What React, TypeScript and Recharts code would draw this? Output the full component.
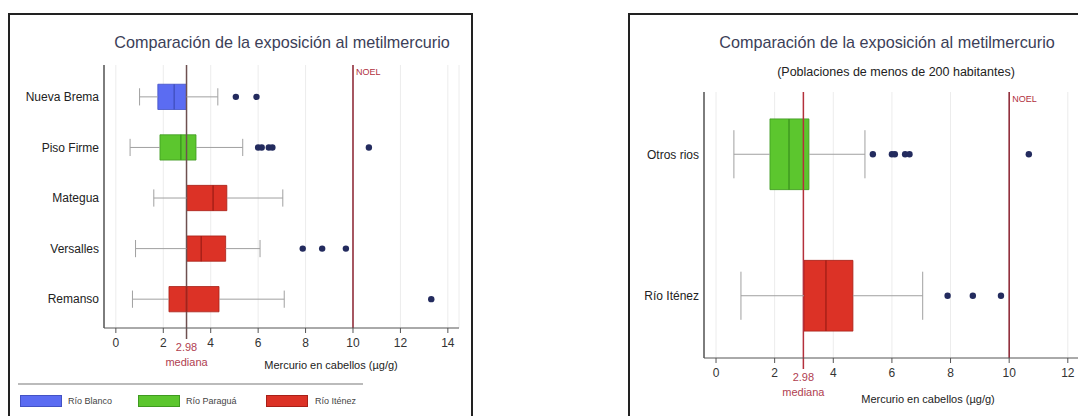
import React from 'react';
import { ComposedChart, XAxis, YAxis, CartesianGrid, ReferenceArea, ReferenceLine, Scatter } from 'recharts';

// left panel: communities
const leftCategories = ['Nueva Brema', 'Piso Firme', 'Mategua', 'Versalles', 'Remanso'];
const leftRiver = ['Río Blanco', 'Río Paraguá', 'Río Iténez', 'Río Iténez', 'Río Iténez'];
const leftLow = [1.0, 0.6, 1.6, 0.83, 0.7];
const leftQ1 = [1.77, 1.86, 2.98, 2.98, 2.24];
const leftMedian = [2.46, 2.74, 4.1, 3.6, 2.98];
const leftQ3 = [2.98, 3.38, 4.68, 4.63, 4.35];
const leftHigh = [4.3, 5.35, 7.04, 6.08, 7.1];
const leftOutliers = [[5.06, 5.93], [6.0, 6.15, 6.45, 6.6, 10.67], [], [7.88, 8.7, 9.7], [13.3]];

// right panel: grouped by river
const rightCategories = ['Otros rios', 'Río Iténez'];
const rightRiver = ['Río Paraguá', 'Río Iténez'];
const rightLow = [0.61, 0.85];
const rightQ1 = [1.84, 3.0];
const rightMedian = [2.49, 3.75];
const rightQ3 = [3.17, 4.67];
const rightHigh = [5.08, 7.05];
const rightOutliers = [[5.35, 6.0, 6.1, 6.45, 6.6, 10.67], [7.9, 8.76, 9.72]];

const leftTicks = [0, 2, 4, 6, 8, 10, 12, 14];
const rightTicks = [0, 2, 4, 6, 8, 10, 12];
const medianAll = 2.98;
const noel = 10;
const legendItems = ['Río Blanco', 'Río Paraguá', 'Río Iténez'];

const fills: Record<string, string> = {
  'Río Blanco': '#5b6cf2',
  'Río Paraguá': '#5cc62e',
  'Río Iténez': '#dc3226',
};
const strokes: Record<string, string> = {
  'Río Blanco': '#4352c4',
  'Río Paraguá': '#3f9a20',
  'Río Iténez': '#a82018',
};

const FONT = '"Liberation Sans", Arial, sans-serif';
const WHISKER = '#a0a0a0';
const BOX_HALF = 0.25;
const CAP_HALF = 0.17;

type PanelProps = {
  categories: string[];
  river: string[];
  low: number[];
  q1: number[];
  med: number[];
  q3: number[];
  high: number[];
  outliers: number[][];
  ticks: number[];
  xDomain: [number, number];
  yDomain: [number, number];
  width: number;
  margin: { top: number; right: number; bottom: number; left: number };
  medianColor: string;
};

const MedianMark = ({ viewBox, color }: any) => {
  if (!viewBox) return null;
  const x = viewBox.x;
  const bottom = viewBox.y + viewBox.height;
  return (
    <g>
      <line x1={x} x2={x} y1={bottom} y2={bottom + 11} stroke={color} strokeWidth={1.5} />
      <text x={x} y={bottom + 23} textAnchor="middle" fill="#b04050" fontSize={11} fontFamily={FONT}>
        2.98
      </text>
      <text x={x} y={bottom + 38} textAnchor="middle" fill="#b04050" fontSize={11} fontFamily={FONT}>
        mediana
      </text>
    </g>
  );
};

const NoelMark = ({ viewBox }: any) => {
  if (!viewBox) return null;
  return (
    <text x={viewBox.x + 3} y={viewBox.y + 10} fill="#b03040" fontSize={9} fontFamily={FONT}>
      NOEL
    </text>
  );
};

const Dot = (p: any) => <circle cx={p.cx} cy={p.cy} r={3.2} fill="#232b5e" />;

function BoxPanel(props: PanelProps) {
  const { categories, river, low, q1, med, q3, high, outliers } = props;
  const points = outliers.flatMap((vals, i) => vals.map((v) => ({ x: v, y: i })));

  return (
    <ComposedChart width={props.width} height={416} margin={props.margin}>
      <CartesianGrid horizontal={false} stroke="#ececec" />
      <XAxis
        type="number"
        dataKey="x"
        domain={props.xDomain}
        ticks={props.ticks}
        allowDataOverflow
        height={30}
        tickSize={5}
        tickMargin={5}
        stroke="#555"
        tick={{ fill: '#333', fontSize: 12, fontFamily: FONT }}
      />
      <YAxis
        type="number"
        dataKey="y"
        domain={props.yDomain}
        ticks={categories.map((_, i) => i)}
        tickFormatter={(i: number) => categories[i]}
        reversed
        allowDataOverflow
        width={90}
        tickLine={false}
        tickSize={3}
        tickMargin={2}
        stroke="#555"
        strokeWidth={1.5}
        tick={{ fill: '#222', fontSize: 12, fontFamily: FONT }}
      />
      <ReferenceLine
        x={medianAll}
        stroke={props.medianColor}
        strokeWidth={1.5}
        label={<MedianMark color={props.medianColor} />}
      />
      <ReferenceLine x={noel} stroke="#8c2230" strokeWidth={1.5} label={<NoelMark />} />
      {categories.flatMap((_, i) => [
        <ReferenceLine key={`wl${i}`} segment={[{ x: low[i], y: i }, { x: q1[i], y: i }]} stroke={WHISKER} />,
        <ReferenceLine key={`wh${i}`} segment={[{ x: q3[i], y: i }, { x: high[i], y: i }]} stroke={WHISKER} />,
        <ReferenceLine key={`cl${i}`} segment={[{ x: low[i], y: i - CAP_HALF }, { x: low[i], y: i + CAP_HALF }]} stroke={WHISKER} />,
        <ReferenceLine key={`ch${i}`} segment={[{ x: high[i], y: i - CAP_HALF }, { x: high[i], y: i + CAP_HALF }]} stroke={WHISKER} />,
        <ReferenceArea
          key={`b${i}`}
          x1={q1[i]}
          x2={q3[i]}
          y1={i - BOX_HALF}
          y2={i + BOX_HALF}
          fill={fills[river[i]]}
          fillOpacity={1}
          stroke={strokes[river[i]]}
          strokeOpacity={0.8}
        />,
        <ReferenceLine
          key={`m${i}`}
          segment={[{ x: med[i], y: i - BOX_HALF }, { x: med[i], y: i + BOX_HALF }]}
          stroke={strokes[river[i]]}
          strokeWidth={1.5}
        />,
      ])}
      <Scatter data={points} isAnimationActive={false} shape={Dot} />
    </ComposedChart>
  );
}

const frame: React.CSSProperties = {
  position: 'absolute',
  top: 13,
  height: 420,
  border: '2px solid #222',
  boxSizing: 'border-box',
};

const text = (x: number, y: number, size: number, color: string, s: string, center = true): React.ReactNode => (
  <div
    style={{
      position: 'absolute',
      left: center ? x - 300 : x,
      top: y - size * 0.6,
      width: center ? 600 : undefined,
      textAlign: center ? 'center' : 'left',
      fontSize: size,
      color,
      fontFamily: FONT,
      whiteSpace: 'nowrap',
      lineHeight: `${size * 1.2}px`,
    }}
  >
    {s}
  </div>
);

export default function App() {
  return (
    <div
      style={{
        position: 'absolute',
        left: 0,
        top: 0,
        width: 1078,
        height: 416,
        overflow: 'hidden',
        background: '#fff',
        fontFamily: FONT,
      }}
    >
      <div style={{ ...frame, left: 8, width: 465 }} />
      <div style={{ ...frame, left: 628, width: 470 }} />

      {text(282, 43, 16.2, '#3c4058', 'Comparación de la exposición al metilmercurio')}
      {text(887, 43, 16.2, '#3c4058', 'Comparación de la exposición al metilmercurio')}
      {text(896, 72, 12.5, '#222', '(Poblaciones de menos de 200 habitantes)')}

      <div style={{ position: 'absolute', left: 0, top: 0 }}>
        <BoxPanel
          categories={leftCategories}
          river={leftRiver}
          low={leftLow}
          q1={leftQ1}
          med={leftMedian}
          q3={leftQ3}
          high={leftHigh}
          outliers={leftOutliers}
          ticks={leftTicks}
          xDomain={[-0.5, 14.47]}
          yDomain={[-0.63, 4.57]}
          width={470}
          margin={{ top: 65, right: 11, bottom: 58, left: 14 }}
          medianColor="#6e5050"
        />
      </div>
      <div style={{ position: 'absolute', left: 610, top: 0 }}>
        <BoxPanel
          categories={rightCategories}
          river={rightRiver}
          low={rightLow}
          q1={rightQ1}
          med={rightMedian}
          q3={rightQ3}
          high={rightHigh}
          outliers={rightOutliers}
          ticks={rightTicks}
          xDomain={[-0.41, 12.45]}
          yDomain={[-0.44, 1.44]}
          width={480}
          margin={{ top: 92, right: 9, bottom: 28, left: 4 }}
          medianColor="#b4303c"
        />
      </div>

      {text(331, 366, 11, '#222', 'Mercurio en cabellos (µg/g)')}
      {text(928, 400, 11, '#222', 'Mercurio en cabellos (µg/g)')}

      <div style={{ position: 'absolute', left: 18, top: 383, width: 345, height: 2, background: '#bbb' }} />
      {legendItems.map((r, i) => (
        <React.Fragment key={r}>
          <div
            style={{
              position: 'absolute',
              left: [20, 138, 266][i],
              top: 395,
              width: 42,
              height: 12,
              background: fills[r],
              border: `1px solid ${strokes[r]}`,
              boxSizing: 'border-box',
            }}
          />
          {text([68, 186, 315][i], 401, 9, '#444', r, false)}
        </React.Fragment>
      ))}
    </div>
  );
}
